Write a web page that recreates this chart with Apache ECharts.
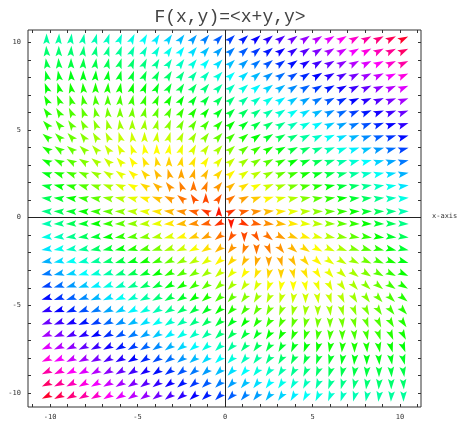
<!DOCTYPE html>
<html>
<head>
<meta charset="UTF-8">
<script src="https://cdn.jsdelivr.net/npm/echarts@6/dist/echarts.min.js"></script>
</head>
<body style="margin:0;background:#fff">
<div id="main" style="width:474px;height:429px"></div>
<script>
  // grid of sample points (same for x and y)
  var xs = [-10.2,-9.5,-8.8,-8.1,-7.4,-6.7,-6.0,-5.3,-4.6,-3.9,-3.2,-2.5,-1.8,-1.1,-0.35,0.35,1.1,1.8,2.5,3.2,3.9,4.6,5.3,6.0,6.7,7.4,8.1,8.8,9.5,10.2];
  var ys = xs.slice();
  var tickValues = [-10, -5, 0, 5, 10];
  var minorTicks = [-11,-10,-9,-8,-7,-6,-5,-4,-3,-2,-1,0,1,2,3,4,5,6,7,8,9,10,11];

  // F(x,y) = <x+y, y>
  var points = [];
  var maxMag = 0;
  xs.forEach(function (x) {
    ys.forEach(function (y) {
      var u = x + y, v = y;
      var m = Math.sqrt(u * u + v * v);
      if (m > maxMag) maxMag = m;
      points.push([x, y, u, v, m]);
    });
  });

  function hsl(h) {
    return 'hsl(' + h + ',100%,50%)';
  }

  var labelFont = {fontFamily: 'DejaVu Sans Mono', fontSize: 7, color: '#333'};
  function axis(pos, min, max, labels) {
    return {
      type: 'value', position: pos, min: min, max: max,
      splitLine: {show: false}, axisLine: {show: false, onZero: false},
      axisTick: {show: true, inside: true, length: 3, customValues: minorTicks, lineStyle: {color: '#333'}},
      axisLabel: labels ? Object.assign({customValues: tickValues, margin: 7}, labelFont) : {show: false}
    };
  }

  var chart = echarts.init(document.getElementById('main'));
  chart.setOption({
    animation: false,
    title: {
      text: 'F(x,y)=<x+y,y>', left: 225, top: 3, textAlign: 'center',
      textStyle: {fontFamily: 'Liberation Mono', fontWeight: 'normal', fontSize: 18, color: '#444'}
    },
    grid: {left: 28, right: 53, top: 30, bottom: 22, show: true, borderColor: '#333', borderWidth: 1},
    xAxis: [axis('bottom', -11.26, 11.2, true), axis('top', -11.26, 11.2, false)],
    yAxis: [axis('left', -10.8, 10.7, true), axis('right', -10.8, 10.7, false)],
    series: [{
      type: 'custom',
      data: points,
      renderItem: function (params, api) {
        var c = api.coord([api.value(0), api.value(1)]);
        var u = api.value(2), v = api.value(3), m = api.value(4);
        var a = Math.atan2(-v, u);
        var L = 10.5, W = 3.3;
        var dx = Math.cos(a), dy = Math.sin(a);
        var tip = [c[0] + dx * L * 0.5, c[1] + dy * L * 0.5];
        var bx = c[0] - dx * L * 0.5, by = c[1] - dy * L * 0.5;
        var notch = [c[0] - dx * L * 0.3, c[1] - dy * L * 0.3];
        return {
          type: 'polygon',
          shape: {points: [tip, [bx - dy * W, by + dx * W], notch, [bx + dy * W, by - dx * W]]},
          style: {fill: hsl(m / maxMag * 350)}
        };
      },
      markLine: {
        silent: true, symbol: 'none', animation: false,
        lineStyle: {color: '#222', type: 'solid', width: 1},
        label: {show: false},
        data: [{xAxis: 0}, {yAxis: 0}]
      }
    }],
    graphic: [{
      type: 'text', left: 432, top: 213,
      style: {text: 'x-axis', fontFamily: 'DejaVu Sans Mono', fontSize: 7, fill: '#333'}
    }]
  });
</script>
</body>
</html>
